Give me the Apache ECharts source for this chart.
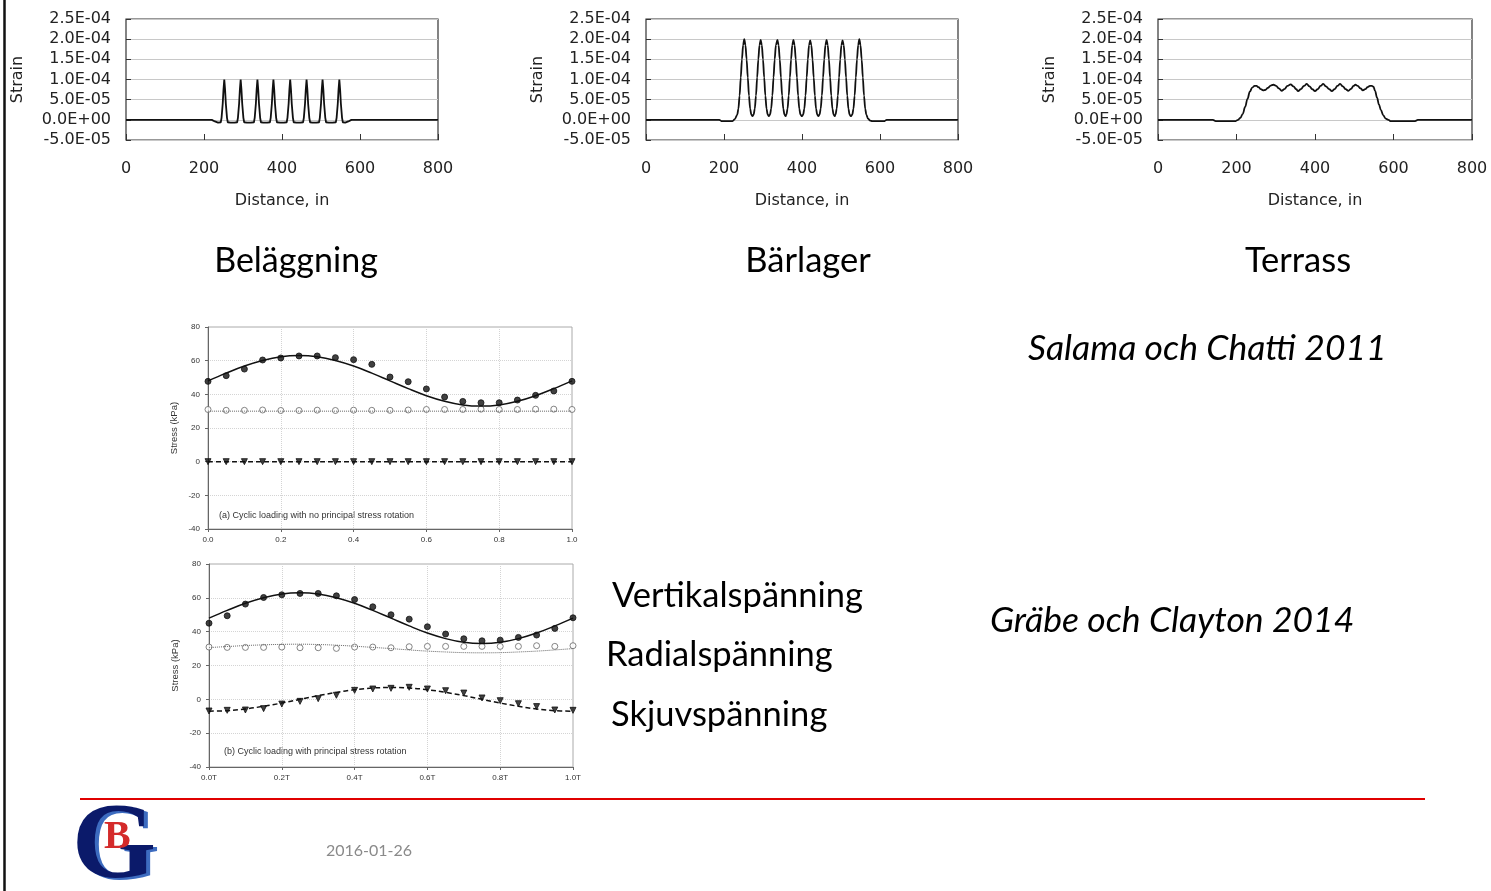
<!DOCTYPE html>
<html>
<head>
<meta charset="utf-8">
<script src="https://cdn.jsdelivr.net/npm/echarts@6/dist/echarts.min.js"></script>
<style>
  html, body { margin: 0; padding: 0; background: #fff; }
  #main { width: 1491px; height: 891px; }
</style>
</head>
<body>
<div id="main"></div>
<script>
// strain profiles, y in microstrain (1e-6), x in inches
const belaggning = [
  [0,0],[220,0],[228,-4],[236,-7],
  [243,-6],[245,5],[248,40],[250,75],[252,100],[254,75],[256,40],[259,5],[261,-6],[268,-7],[273,-3],[278,-7],
  [285,-6],[287,5],[290,40],[292,75],[294,100],[296,75],[298,40],[301,5],[303,-6],[310,-7],[315,-3],[320,-7],
  [328,-6],[330,5],[333,40],[335,75],[337,100],[339,75],[341,40],[344,5],[346,-6],[352,-7],[357,-3],[362,-7],
  [369,-6],[371,5],[374,40],[376,75],[378,100],[380,75],[382,40],[385,5],[387,-6],[395,-7],[400,-3],[405,-7],
  [412,-6],[414,5],[417,40],[419,75],[421,100],[423,75],[425,40],[428,5],[430,-6],[437,-7],[442,-3],[447,-7],
  [454,-6],[456,5],[459,40],[461,75],[463,100],[465,75],[467,40],[470,5],[472,-6],[478,-7],[483,-3],[488,-7],
  [495,-6],[497,5],[500,40],[502,75],[504,100],[506,75],[508,40],[511,5],[513,-6],[520,-7],[525,-3],[530,-7],
  [538,-6],[540,5],[543,40],[545,75],[547,100],[549,75],[551,40],[554,5],[556,-6],
  [562,-7],[570,-4],[578,0],[800,0]
];
const barlager = [
  [0,0],[188,0],[193,-3],[222,-3],[228,2],
  [234,13],[237,28],[240,60],[243,105],[246,150],[249,185],[252,200],[255,185],[258,150],[261,105],[264,60],[267,28],[270,13],[273,9],
  [276,13],[279,28],[282,60],[285,105],[288,150],[291,185],[294,198],[297,185],[300,150],[303,105],[306,60],[309,28],[312,13],[315,9],
  [318,13],[321,28],[324,60],[327,105],[330,150],[333,185],[337,198],[340,185],[343,150],[346,105],[349,60],[352,28],[355,13],[358,9],
  [360,13],[363,28],[366,60],[369,105],[372,150],[375,185],[378,198],[381,185],[384,150],[387,105],[390,60],[393,28],[396,13],[400,9],
  [403,13],[406,28],[409,60],[412,105],[415,150],[418,185],[421,197],[424,185],[427,150],[430,105],[433,60],[436,28],[439,13],[442,9],
  [445,13],[448,28],[451,60],[454,105],[457,150],[460,185],[463,198],[466,185],[469,150],[472,105],[475,60],[478,28],[481,13],[484,9],
  [486,13],[489,28],[492,60],[495,105],[498,150],[501,185],[504,197],[507,185],[510,150],[513,105],[516,60],[519,28],[522,13],[525,9],
  [529,13],[532,28],[535,60],[538,105],[541,150],[544,185],[547,200],[550,185],[553,150],[556,105],[559,60],[562,28],[565,13],
  [569,3],[575,-2],[580,-3],[612,-3],[617,0],[800,0]
];
const terrass = [
  [0,0],[140,0],[147,-3],[198,-3],[204,0],[210,5],[216,15],[222,32],[228,52],[234,70],[240,80],[246,84],[251,84],
  [256,81],[262,76],[268,73],[273,74],[280,79],[287,85],[294,87],[301,84],[308,78],[315,72],[322,76],[330,84],
  [338,88],[345,83],[352,76],[357,71],[364,76],[372,84],[379,89],[386,83],[393,76],[400,71],[407,76],[414,84],
  [421,89],[428,83],[436,76],[443,71],[450,76],[457,84],[464,89],[471,83],[478,76],[485,72],[492,77],[498,84],
  [503,87],[509,84],[516,78],[522,73],[528,76],[534,81],[540,84],[545,84],[549,82],[553,72],[558,55],[563,38],
  [568,24],[574,11],[580,3],[587,0],[592,-3],[655,-3],[662,0],[800,0]
];

// stress paths, t = fraction of period
const tVals = [0,0.05,0.1,0.15,0.2,0.25,0.3,0.35,0.4,0.45,0.5,0.55,0.6,0.65,0.7,0.75,0.8,0.85,0.9,0.95,1];
const vertFit = [48,52.6,56.8,60.1,62.3,63,62.3,60.1,56.8,52.6,48,43.4,39.2,35.9,33.7,33,33.7,35.9,39.2,43.4,48];
const vertA = [47.7,51.1,55,60.4,61.6,62.8,62.8,61.8,60.6,57.8,50.3,47.5,43.2,38.4,35.8,35,35,36.6,39.4,42,47.7];
const radA = [31,30.5,30.5,30.7,30.4,30.4,30.6,30.4,30.6,30.5,30.5,30.7,31,31,31,31.2,31,31,31.2,31.2,31];
const radFitA = [30,30,30,30,30,30,30,30,30,30,30,30,30,30,30,30,30,30,30,30,30];
const shearA = [0,0,0,0,0,0,0,0,0,0,0,0,0,0,0,0,0,0,0,0,0];
const vertB = [45,49.4,56.3,60.2,61.8,62.6,62.6,61.2,59,54.7,50,47.4,42.9,38.6,35.8,34.6,35,36.6,38,41.9,48.2];
const radB = [30.9,30.7,30.7,30.7,30.9,30.5,30.5,30.1,30.9,30.9,30.5,31.1,31.3,31.3,31.3,31.3,31.3,31.3,31.7,31.3,31.7];
const radFitB = [30.6,31.2,31.8,32.2,32.5,32.6,32.4,32,31.4,30.7,30,29.2,28.5,28,27.6,27.5,27.6,28,28.5,29.2,30];
const shearFitB = [-7,-6.7,-5.7,-4.1,-2.2,0,2.2,4.1,5.7,6.7,7,6.7,5.7,4.1,2.2,0,-2.2,-4.1,-5.7,-6.7,-7];
const shearB = [-6.9,-6.5,-6.3,-5.5,-2.8,-1.2,0.4,2.4,5.3,6.1,6.5,7.1,6.1,5.1,3.7,0.8,-0.8,-2.6,-4.3,-6.3,-6.5];

const pairs = arr => tVals.map((t, i) => [t, arr[i]]);

var chart = echarts.init(document.getElementById('main'));

const strainFmt = v => {
  const s = (v * 1e-6).toExponential(1).toUpperCase();
  const [m, e] = s.split('E');
  return m + 'E' + e[0] + e.slice(1).padStart(2, '0');
};

const strainX = (idx) => ({
  gridIndex: idx, type: 'value', min: 0, max: 800, interval: 200,
  axisLine: { show: false, onZero: false },
  axisTick: { inside: true, length: 6, lineStyle: { color: '#333' } },
  axisLabel: { margin: 21, fontFamily: 'DejaVu Sans', fontSize: 16, color: '#222' },
  splitLine: { show: false },
  name: 'Distance, in', nameLocation: 'middle', nameGap: 53,
  nameTextStyle: { fontFamily: 'DejaVu Sans', fontSize: 16, color: '#222' }
});
const strainY = (idx) => ({
  gridIndex: idx, type: 'value', min: -50, max: 250, interval: 50,
  axisLine: { show: false, onZero: false },
  axisTick: { inside: true, length: 5, lineStyle: { color: '#333' } },
  axisLabel: { margin: 15, padding: [3, 0, 0, 0], fontFamily: 'DejaVu Sans', fontSize: 16, color: '#222', formatter: strainFmt },
  splitLine: { lineStyle: { color: '#c8c8c8', width: 1 } },
  name: 'Strain', nameLocation: 'middle', nameGap: 100,
  nameTextStyle: { fontFamily: 'DejaVu Sans', fontSize: 16, color: '#222' }
});
const stressX = (idx, suffix) => ({
  gridIndex: idx, type: 'value', min: 0, max: 1, interval: 0.2,
  axisLine: { onZero: false, lineStyle: { color: '#666' } },
  axisTick: { length: 3, lineStyle: { color: '#666' } },
  axisLabel: { margin: 7, fontFamily: 'Liberation Sans', fontSize: 8, color: '#333',
    formatter: v => v.toFixed(1) + suffix },
  splitLine: { show: true, lineStyle: { color: '#d4d4d4', type: 'dotted' } }
});
const stressY = (idx) => ({
  gridIndex: idx, type: 'value', min: -40, max: 80, interval: 20,
  axisLine: { onZero: false, lineStyle: { color: '#666' } },
  axisTick: { length: 3, lineStyle: { color: '#666' } },
  axisLabel: { margin: 8, fontFamily: 'Liberation Sans', fontSize: 8, color: '#333' },
  splitLine: { lineStyle: { color: '#d4d4d4', type: 'dotted' } },
  name: 'Stress (kPa)', nameLocation: 'middle', nameGap: 29,
  nameTextStyle: { fontFamily: 'Liberation Sans', fontSize: 9.5, color: '#333' }
});

const strainLine = (idx, data, smooth) => ({
  type: 'line', xAxisIndex: idx, yAxisIndex: idx, data: data,
  showSymbol: false, smooth: smooth, smoothMonotone: 'x',
  lineStyle: { color: '#111', width: 1.8 }
});
const fitLine = (idx, arr, type, width, color) => ({
  type: 'line', xAxisIndex: idx, yAxisIndex: idx, data: pairs(arr),
  showSymbol: false, smooth: 0.4,
  lineStyle: { color: color, width: width, type: type }
});
const marks = (idx, arr, symbol, rotate, color, border) => ({
  type: 'scatter', xAxisIndex: idx, yAxisIndex: idx, data: pairs(arr),
  symbol: symbol, symbolSize: 6, symbolRotate: rotate,
  itemStyle: { color: color, borderColor: border, borderWidth: 1 }
});

const gridBox = { show: true, borderColor: '#333', borderWidth: 1.2, backgroundColor: 'transparent' };
const stressBox = { show: true, borderColor: '#aaa', borderWidth: 1, backgroundColor: 'transparent' };

const txt = (text, x, y, font, opts) => Object.assign({
  type: 'text', x: x, y: y, silent: true,
  style: Object.assign({ text: text, font: font, fill: '#000',
    align: 'left', textAlign: 'left', verticalAlign: 'middle', textVerticalAlign: 'middle' }, opts || {})
});
const centered = { align: 'center', textAlign: 'center' };

var option = {
  animation: false,
  grid: [
    Object.assign({ left: 126, top: 19, width: 312, height: 121 }, gridBox),
    Object.assign({ left: 646, top: 19, width: 312, height: 121 }, gridBox),
    Object.assign({ left: 1158, top: 19, width: 314, height: 121 }, gridBox),
    Object.assign({ left: 208, top: 327, width: 364, height: 202 }, stressBox),
    Object.assign({ left: 209, top: 564, width: 364, height: 203 }, stressBox)
  ],
  xAxis: [strainX(0), strainX(1), strainX(2), stressX(3, ''), stressX(4, 'T')],
  yAxis: [strainY(0), strainY(1), strainY(2), stressY(3), stressY(4)],
  series: [
    strainLine(0, belaggning, false),
    strainLine(1, barlager, 0.3),
    strainLine(2, terrass, 0.4),
    fitLine(3, vertFit, 'solid', 1.5, '#111'),
    fitLine(3, radFitA, 'dotted', 1, '#666'),
    fitLine(3, shearA, [5, 3], 1.5, '#111'),
    marks(3, vertA, 'circle', 0, '#111', '#111'),
    marks(3, radA, 'circle', 0, '#fff', '#666'),
    marks(3, shearA, 'triangle', 180, '#111', '#111'),
    fitLine(4, vertFit, 'solid', 1.5, '#111'),
    fitLine(4, radFitB, 'dotted', 1, '#666'),
    fitLine(4, shearFitB, [5, 3], 1.5, '#111'),
    marks(4, vertB, 'circle', 0, '#111', '#111'),
    marks(4, radB, 'circle', 0, '#fff', '#666'),
    marks(4, shearB, 'triangle', 180, '#111', '#111')
  ],
  graphic: [
    { type: 'line', silent: true, shape: { x1: 4.5, y1: 0, x2: 4.5, y2: 891 }, style: { stroke: '#111', lineWidth: 2.5 } },
    txt('Beläggning', 296, 261, '34px Lato', centered),
    txt('Bärlager', 808, 261, '34.5px Lato', centered),
    txt('Terrass', 1298, 261, '34.5px Lato', centered),
    txt('Salama och Chatti 2011', 1028, 349, 'italic 35.5px Lato'),
    txt('Gräbe och Clayton 2014', 990, 621, 'italic 35.5px Lato'),
    txt('Vertikalspänning', 612, 596, '34.5px Lato'),
    txt('Radialspänning', 606, 655, '34.5px Lato'),
    txt('Skjuvspänning', 611, 715, '34.5px Lato'),
    txt('(a) Cyclic loading with no principal stress rotation', 219, 516, '9px "Liberation Sans"', { fill: '#333' }),
    txt('(b) Cyclic loading with principal stress rotation', 224, 752, '9px "Liberation Sans"', { fill: '#333' }),
    { type: 'line', silent: true, shape: { x1: 80, y1: 799, x2: 1425, y2: 799 }, style: { stroke: '#e00000', lineWidth: 2 } },
    txt('G', 76, 851, 'bold 108px "Liberation Serif"', { fill: '#3d6cc0' }),
    txt('G', 72, 849, 'bold 108px "Liberation Serif"', { fill: '#0b1a6a' }),
    txt('B', 104, 838, 'bold 40px "Liberation Serif"', { fill: '#d42a2a' }),
    txt('2016-01-26', 326, 851, '16px Lato', { fill: '#8a8a8a' })
  ]
};

chart.setOption(option);
</script>
</body>
</html>
